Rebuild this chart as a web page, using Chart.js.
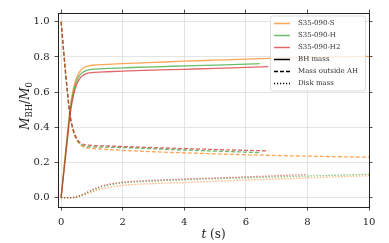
<!DOCTYPE html>
<html>
<head>
<meta charset="utf-8">
<script src="https://cdn.jsdelivr.net/npm/chart.js@4"></script>
<style>
  body { margin: 0; background: #fff; }
  canvas { display: block; }
</style>
</head>
<body>
<canvas id="massChart" width="389" height="243"></canvas>
<script>
// Simulation labels and colours
const simNames = ['S35-090-S', 'S35-090-H', 'S35-090-H2'];
const simColors = ['rgba(255, 127, 14, 0.7)', 'rgba(44, 160, 44, 0.7)', 'rgba(214, 39, 40, 0.7)'];
const styleNames = ['BH mass', 'Mass outside AH', 'Disk mass'];

// Time samples (s)
const tS = [0, 0.1, 0.2, 0.3, 0.4, 0.5, 0.6, 0.7, 0.8, 0.9, 1, 1.5, 2, 3, 4, 5, 6, 7, 8, 9, 10];
const tH = [0, 0.1, 0.2, 0.3, 0.4, 0.5, 0.6, 0.7, 0.8, 0.9, 1, 1.5, 2, 3, 4, 5, 6, 6.45];
const tH2 = [0, 0.1, 0.2, 0.3, 0.4, 0.5, 0.6, 0.7, 0.8, 0.9, 1, 1.5, 2, 3, 4, 5, 6, 6.73];

// BH mass
const bhS = [0, 0.18, 0.36, 0.52, 0.62, 0.68, 0.715, 0.735, 0.745, 0.75, 0.753, 0.758, 0.762, 0.769, 0.776, 0.782, 0.788, 0.793, 0.797, 0.8, 0.803];
const bhH = [0, 0.17, 0.34, 0.5, 0.6, 0.66, 0.695, 0.713, 0.722, 0.727, 0.73, 0.735, 0.738, 0.744, 0.749, 0.754, 0.759, 0.762];
const bhH2 = [0, 0.16, 0.32, 0.48, 0.58, 0.64, 0.675, 0.695, 0.704, 0.709, 0.711, 0.716, 0.72, 0.725, 0.73, 0.735, 0.741, 0.745];

// Mass outside apparent horizon
const outS = [1, 0.8, 0.61, 0.46, 0.375, 0.33, 0.305, 0.292, 0.285, 0.282, 0.28, 0.274, 0.269, 0.261, 0.255, 0.249, 0.244, 0.24, 0.236, 0.233, 0.23];
const outH = [1, 0.8, 0.61, 0.46, 0.38, 0.335, 0.31, 0.298, 0.292, 0.29, 0.289, 0.287, 0.285, 0.278, 0.271, 0.265, 0.259, 0.256];
const outH2 = [1, 0.8, 0.61, 0.46, 0.385, 0.34, 0.316, 0.305, 0.3, 0.298, 0.297, 0.294, 0.291, 0.285, 0.279, 0.274, 0.269, 0.266];

// Disk mass
const tDisk = [0, 0.3, 0.5, 0.75, 1, 1.25, 1.5, 2, 3, 4, 5, 6, 7, 8, 9, 10];
const tDiskH2 = [0, 0.3, 0.5, 0.75, 1, 1.25, 1.5, 2, 3, 4, 5, 6, 7, 8];
const diskS = [0, 0, 0.003, 0.016, 0.032, 0.046, 0.056, 0.07, 0.08, 0.086, 0.093, 0.1, 0.106, 0.112, 0.119, 0.125];
const diskH = [0, 0, 0.004, 0.02, 0.04, 0.057, 0.07, 0.084, 0.095, 0.102, 0.108, 0.113, 0.118, 0.123, 0.128, 0.133];
const diskH2 = [0, 0, 0.005, 0.023, 0.044, 0.062, 0.075, 0.088, 0.099, 0.106, 0.112, 0.118, 0.125, 0.132];

// Axis ticks
const xTicks = [0, 2, 4, 6, 8, 10];
const yTicks = [0, 0.2, 0.4, 0.6, 0.8, 1.0];

const dashes = [[], [4, 2], [1.2, 1.8]];
const serif = 'DejaVu Serif';
const ink = '#222';

function pts(t, v) {
    return t.map((x, i) => ({ x: x, y: v[i] }));
}

function line(data, sim, style) {
    return {
        data: data,
        borderColor: simColors[sim],
        borderWidth: 1.3,
        borderDash: dashes[style],
        pointRadius: 0,
        fill: false,
        cubicInterpolationMode: 'monotone'
    };
}

// red on top (first dataset is drawn last)
const datasets = [
    line(pts(tH2, bhH2), 2, 0), line(pts(tH2, outH2), 2, 1), line(pts(tDiskH2, diskH2), 2, 2),
    line(pts(tH, bhH), 1, 0), line(pts(tH, outH), 1, 1), line(pts(tDisk, diskH), 1, 2),
    line(pts(tS, bhS), 0, 0), line(pts(tS, outS), 0, 1), line(pts(tDisk, diskS), 0, 2)
];

// Legend box and axis labels drawn on top
const decorations = {
    id: 'decorations',
    afterDraw(chart) {
        const ctx = chart.ctx;
        ctx.save();

        // legend
        const bx = 270.5, by = 16, bw = 95, bh = 75;
        ctx.beginPath();
        ctx.roundRect(bx, by, bw, bh, 2.5);
        ctx.fillStyle = 'rgba(255, 255, 255, 0.8)';
        ctx.fill();
        ctx.strokeStyle = '#d4d4d4';
        ctx.lineWidth = 0.8;
        ctx.stroke();

        const entries = simNames.map((n, i) => ({ text: n, color: simColors[i], dash: [] }))
            .concat(styleNames.map((n, i) => ({ text: n, color: '#000', dash: dashes[i] })));
        ctx.font = '7px "' + serif + '"';
        ctx.textBaseline = 'middle';
        entries.forEach((e, i) => {
            const y = 23.5 + i * 12;
            ctx.beginPath();
            ctx.setLineDash(e.dash);
            ctx.strokeStyle = e.color;
            ctx.lineWidth = 1.5;
            ctx.moveTo(274, y);
            ctx.lineTo(290, y);
            ctx.stroke();
            ctx.setLineDash([]);
            ctx.fillStyle = '#333';
            ctx.fillText(e.text, 298, y);
        });

        // x axis title: t (s)
        const area = chart.chartArea;
        const cx = (area.left + area.right) / 2;
        ctx.fillStyle = ink;
        ctx.textBaseline = 'alphabetic';
        ctx.font = 'italic 12px "' + serif + '"';
        const wT = ctx.measureText('t').width;
        ctx.font = '12px "' + serif + '"';
        const wS = ctx.measureText(' (s)').width;
        let x = cx - (wT + wS) / 2;
        ctx.font = 'italic 12px "' + serif + '"';
        ctx.fillText('t', x, 238);
        ctx.font = '12px "' + serif + '"';
        ctx.fillText(' (s)', x + wT, 238);

        // y axis title: M_BH / M_0
        const parts = [
            { s: 'M', f: 'italic 12px', dy: 0 },
            { s: 'BH', f: '8.5px', dy: 3 },
            { s: '/', f: '12px', dy: 0 },
            { s: 'M', f: 'italic 12px', dy: 0 },
            { s: '0', f: '8.5px', dy: 3 }
        ];
        let total = 0;
        parts.forEach(p => {
            ctx.font = p.f + ' "' + serif + '"';
            p.w = ctx.measureText(p.s).width;
            total += p.w;
        });
        ctx.translate(29, 106);
        ctx.rotate(-Math.PI / 2);
        let px = -total / 2;
        parts.forEach(p => {
            ctx.font = p.f + ' "' + serif + '"';
            ctx.fillText(p.s, px, p.dy);
            px += p.w;
        });

        ctx.restore();
    }
};

function frameAxis(pos, size) {
    return {
        type: 'linear',
        position: pos,
        ticks: { display: false },
        grid: { drawOnChartArea: false, tickColor: ink, tickLength: 3.5, tickWidth: 0.8 },
        border: { display: true, color: ink, width: 1 },
        afterFit: s => { if (pos === 'top') s.height = size; else s.width = size; }
    };
}

const xTop = frameAxis('top', 13);
xTop.min = -0.1; xTop.max = 10;
xTop.afterBuildTicks = s => { s.ticks = xTicks.map(v => ({ value: v })); };
const yRight = frameAxis('right', 20);
yRight.min = -0.053; yRight.max = 1.05;
yRight.afterBuildTicks = s => { s.ticks = yTicks.map(v => ({ value: v })); };

new Chart(document.getElementById('massChart').getContext('2d'), {
    type: 'line',
    data: { datasets: datasets },
    options: {
        responsive: false,
        animation: false,
        events: [],
        layout: { padding: 0 },
        plugins: { legend: { display: false }, tooltip: { enabled: false } },
        scales: {
            x: {
                type: 'linear',
                min: -0.1,
                max: 10,
                afterBuildTicks: s => { s.ticks = xTicks.map(v => ({ value: v })); },
                afterFit: s => { s.height = 36; },
                ticks: { color: ink, font: { family: serif, size: 10 }, padding: 6, maxRotation: 0 },
                grid: { color: '#dedede', lineWidth: 0.8, tickColor: ink, tickLength: 3.5, tickWidth: 0.8 },
                border: { display: true, color: ink, width: 1 }
            },
            y: {
                type: 'linear',
                min: -0.053,
                max: 1.05,
                afterBuildTicks: s => { s.ticks = yTicks.map(v => ({ value: v })); },
                afterFit: s => { s.width = 58; },
                ticks: { color: ink, font: { family: serif, size: 10 }, padding: 5, callback: v => v.toFixed(1) },
                grid: { color: '#dedede', lineWidth: 0.8, tickColor: ink, tickLength: 3.5, tickWidth: 0.8 },
                border: { display: true, color: ink, width: 1 }
            },
            xTop: xTop,
            yRight: yRight
        }
    },
    plugins: [decorations]
});
</script>
</body>
</html>
